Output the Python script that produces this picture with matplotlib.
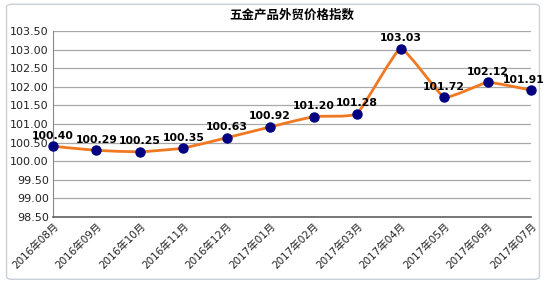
# 五金产品外贸价格指数 line chart

import matplotlib.pyplot as plt
import numpy as np
from matplotlib.path import Path
from matplotlib.patches import PathPatch, FancyBboxPatch

plt.rcParams['font.family'] = ['DejaVu Sans', 'Noto Sans CJK SC']

months = ['2016年08月', '2016年09月', '2016年10月', '2016年11月', '2016年12月',
          '2017年01月', '2017年02月', '2017年03月', '2017年04月', '2017年05月',
          '2017年06月', '2017年07月']
values = [100.40, 100.29, 100.25, 100.35, 100.63, 100.92,
          101.20, 101.28, 103.03, 101.72, 102.12, 101.91]
yticks = [98.5, 99.0, 99.5, 100.0, 100.5, 101.0, 101.5, 102.0, 102.5, 103.0, 103.5]


## light smoothing between data points (bezier) ##
def smooth_path(x, y, t=0.06):
    x = np.asarray(x, float)
    y = np.asarray(y, float)
    verts = [(x[0], y[0])]
    codes = [Path.MOVETO]
    n = len(x)
    for i in range(n - 1):
        x0, y0 = (x[i - 1], y[i - 1]) if i > 0 else (x[i], y[i])
        x3, y3 = (x[i + 2], y[i + 2]) if i + 2 < n else (x[i + 1], y[i + 1])
        c1 = (x[i] + t * (x[i + 1] - x0), y[i] + t * (y[i + 1] - y0))
        c2 = (x[i + 1] - t * (x3 - x[i]), y[i + 1] - t * (y3 - y[i]))
        verts += [c1, c2, (x[i + 1], y[i + 1])]
        codes += [Path.CURVE4] * 3
    return Path(verts, codes)


fig = plt.figure(figsize=(5.46, 2.85), dpi=100)
fig.patch.set_facecolor('white')
border = FancyBboxPatch((0.012, 0.02), 0.976, 0.965, boxstyle='round,pad=0,rounding_size=0.01',
                        transform=fig.transFigure, facecolor='none',
                        edgecolor='#C8D0D8', linewidth=1.0, zorder=-1)
fig.patches.append(border)

ax = fig.add_axes([0.097, 0.239, 0.8755, 0.652])
ax.patch.set_alpha(0)
x = np.arange(len(values))

ax.add_patch(PathPatch(smooth_path(x, values), facecolor='none',
                       edgecolor='#F07820', linewidth=2.0, zorder=3, clip_on=False))
ax.plot(x, values, 'o', color='#000080', markersize=6.5, zorder=4, clip_on=False)

for xi, v in zip(x, values):
    dx = -5 if xi == x[-1] else 0
    ax.annotate('%.2f' % v, (xi, v), xytext=(dx, 4), textcoords='offset points',
                ha='center', va='bottom', fontsize=7.8, fontweight='bold', zorder=5)

ax.set_xlim(0, len(values) - 1)
ax.set_ylim(98.5, 103.5)
ax.set_yticks(yticks)
ax.set_yticklabels(['%.2f' % t for t in yticks], fontsize=8, color='#222222')
ax.set_xticks(x)
ax.set_xticklabels(months, rotation=45, ha='right', rotation_mode='anchor',
                   fontsize=7.5, color='#222222',
                   family=['DejaVu Sans', 'Noto Sans CJK SC'])
ax.tick_params(length=0, pad=3)
ax.grid(axis='y', color='#A8A8A8', linewidth=0.9)
ax.set_axisbelow(True)
for s in ['top', 'right']:
    ax.spines[s].set_visible(False)
ax.spines['left'].set_color('#888888')
ax.spines['bottom'].set_color('#606060')
ax.spines['bottom'].set_linewidth(1.2)

fig.text(0.535, 0.945, '五金产品外贸价格指数', ha='center', va='center',
         fontsize=9, fontweight='bold', family=['Noto Sans CJK SC', 'DejaVu Sans'])

fig.savefig('out.png', dpi=100)
